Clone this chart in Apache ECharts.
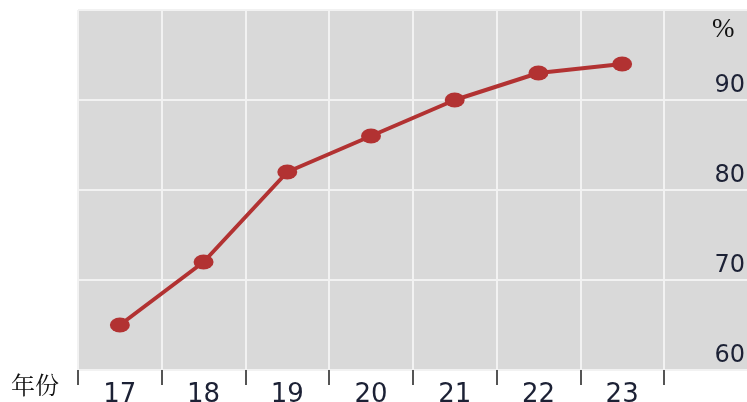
<!DOCTYPE html>
<html>
<head>
<meta charset="utf-8">
<script src="https://cdn.jsdelivr.net/npm/echarts@6/dist/echarts.min.js"></script>
<style>
  html, body { margin: 0; padding: 0; background: #ffffff; }
  #chart { width: 747px; height: 402px; }
</style>
</head>
<body>
<div id="chart"></div>
<script>
// 年份 / 百分比
const years = ['17', '18', '19', '20', '21', '22', '23']
const values = [65, 72, 82, 86, 90, 93, 94]
const yTicks = [60, 70, 80, 90, 100]

const chart = echarts.init(document.getElementById('chart'), null, { renderer: 'canvas' })

const option = {
  animation: false,
  grid: [
    {
      // 数据区
      left: 78, right: 83, top: 10, bottom: 32,
      outerBoundsMode: 'none',
      containLabel: false,
      show: false
    },
    {
      // 灰色背景，延伸到右边
      left: 78, right: 0, top: 10, bottom: 32,
      outerBoundsMode: 'none',
      containLabel: false,
      show: true,
      backgroundColor: '#d9d9d9',
      borderWidth: 0
    }
  ],
  graphic: [
    {
      type: 'text', left: 11, top: 373, z: 10,
      style: { text: '年份', fontSize: 24, fill: '#111', fontFamily: '"Noto Serif CJK SC", "Noto Sans CJK SC", serif' }
    },
    {
      type: 'text', left: 712, top: 16, z: 10,
      style: { text: '%', fontSize: 27, fill: '#111', fontFamily: '"Liberation Serif", serif' }
    }
  ],
  xAxis: [
    {
      type: 'category',
      gridIndex: 0,
      data: years,
      boundaryGap: true,
      axisLine: { show: false },
      axisTick: {
        show: true, interval: 0, length: 15,
        lineStyle: { color: '#555', width: 2 }
      },
      axisLabel: {
        interval: 0, margin: 12,
        color: '#1c2135', fontSize: 26,
        fontFamily: 'DejaVu Sans'
      },
      splitLine: {
        show: true, interval: 0,
        lineStyle: { color: '#f2f2f2', width: 2 }
      }
    },
    {
      type: 'value', gridIndex: 1, show: false
    }
  ],
  yAxis: [
    {
      type: 'value', gridIndex: 0,
      min: yTicks[0], max: yTicks[yTicks.length - 1], interval: 10,
      show: false, splitLine: { show: false }
    },
    {
      type: 'value', gridIndex: 1, position: 'right',
      min: yTicks[0], max: yTicks[yTicks.length - 1], interval: 10,
      axisLine: { show: false },
      axisTick: { show: false },
      axisLabel: {
        inside: true, margin: 2,
        showMaxLabel: false,
        verticalAlign: 'bottom',
        padding: [0, 0, 2, 0],
        color: '#1c2135', fontSize: 24,
        fontFamily: 'DejaVu Sans'
      },
      splitLine: { lineStyle: { color: '#f2f2f2', width: 2 } }
    }
  ],
  series: [
    {
      type: 'line',
      xAxisIndex: 0,
      yAxisIndex: 0,
      data: values,
      z: 5,
      symbol: 'circle',
      symbolSize: [20, 15],
      lineStyle: { color: '#b23232', width: 4 },
      itemStyle: { color: '#b23232' }
    }
  ]
}

option && chart.setOption(option)
</script>
</body>
</html>
